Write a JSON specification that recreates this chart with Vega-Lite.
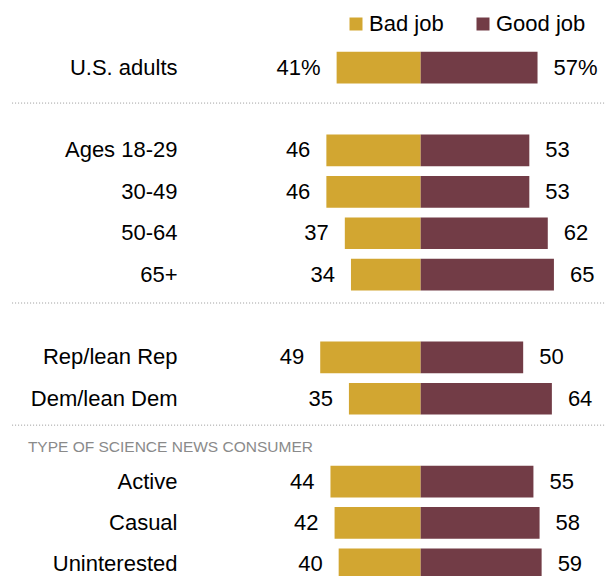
{
  "$schema": "https://vega.github.io/schema/vega-lite/v6.json",
  "width": 606,
  "height": 538,
  "autosize": "none",
  "padding": {"left": 0, "top": 47, "right": 0, "bottom": 0},
  "background": "white",
  "config": {
    "view": {"stroke": null},
    "font": "Liberation Sans",
    "text": {"font": "Liberation Sans"}
  },
  "datasets": {
    "survey": [
      {"row": "U.S. adults", "bad": 41, "good": 57},
      {"row": "Ages 18-29", "bad": 46, "good": 53},
      {"row": "30-49", "bad": 46, "good": 53},
      {"row": "50-64", "bad": 37, "good": 62},
      {"row": "65+", "bad": 34, "good": 65},
      {"row": "Rep/lean Rep", "bad": 49, "good": 50},
      {"row": "Dem/lean Dem", "bad": 35, "good": 64},
      {"row": "Active", "bad": 44, "good": 55},
      {"row": "Casual", "bad": 42, "good": 58},
      {"row": "Uninterested", "bad": 40, "good": 59}
    ]
  },
  "encoding": {
    "y": {
      "field": "row",
      "type": "nominal",
      "sort": null,
      "scale": {
        "domain": ["U.S. adults", "_g1", "Ages 18-29", "30-49", "50-64", "65+", "_g2", "Rep/lean Rep", "Dem/lean Dem", "_hdr", "Active", "Casual", "Uninterested"],
        "paddingInner": 0.234,
        "paddingOuter": 0.117
      },
      "axis": {
        "title": null,
        "orient": "left",
        "offset": -177,
        "domain": false,
        "ticks": false,
        "grid": false,
        "labelPadding": 0,
        "labelFontSize": 22,
        "labelColor": "#000000",
        "labelFont": "Liberation Sans",
        "labelLimit": 400,
        "labelExpr": "indexof(datum.value, '_') === 0 ? '' : datum.value"
      }
    }
  },
  "layer": [
    {
      "data": {"name": "survey"},
      "transform": [
        {"fold": ["bad", "good"], "as": ["key", "value"]},
        {"calculate": "datum.key === 'bad' ? 'Bad job' : 'Good job'", "as": "response"},
        {"calculate": "datum.key === 'bad' ? -datum.value : datum.value", "as": "signed"}
      ],
      "mark": {"type": "bar"},
      "encoding": {
        "x": {
          "field": "signed",
          "type": "quantitative",
          "scale": {"domain": [-205.2, 90.4], "nice": false, "zero": false},
          "axis": null
        },
        "color": {
          "field": "response",
          "type": "nominal",
          "scale": {"domain": ["Bad job", "Good job"], "range": ["#D2A631", "#723C46"]},
          "legend": {
            "title": null,
            "orient": "none",
            "direction": "horizontal",
            "legendX": 345,
            "legendY": -34,
            "symbolType": "square",
            "symbolSize": 169,
            "symbolStrokeWidth": 0,
            "symbolOpacity": 1,
            "labelFontSize": 22,
            "labelColor": "#000000",
            "labelFont": "Liberation Sans",
            "labelOffset": 2,
            "columnPadding": 28
          }
        }
      }
    },
    {
      "data": {"name": "survey"},
      "transform": [
        {"calculate": "-datum.bad", "as": "negBad"},
        {"calculate": "datum.row === 'U.S. adults' ? datum.bad + '%' : '' + datum.bad", "as": "badLabel"}
      ],
      "mark": {"type": "text", "align": "right", "baseline": "middle", "dx": -16, "fontSize": 22, "color": "#000000"},
      "encoding": {
        "x": {"field": "negBad", "type": "quantitative"},
        "text": {"field": "badLabel"}
      }
    },
    {
      "data": {"name": "survey"},
      "transform": [
        {"calculate": "datum.row === 'U.S. adults' ? datum.good + '%' : '' + datum.good", "as": "goodLabel"}
      ],
      "mark": {"type": "text", "align": "left", "baseline": "middle", "dx": 16, "fontSize": 22, "color": "#000000"},
      "encoding": {
        "x": {"field": "good", "type": "quantitative"},
        "text": {"field": "goodLabel"}
      }
    },
    {
      "data": {"values": [{"row": "_hdr", "label": "TYPE OF SCIENCE NEWS CONSUMER"}]},
      "mark": {"type": "text", "align": "left", "baseline": "middle", "dy": 7, "fontSize": 15.5, "font": "Liberation Sans", "color": "#8a8a8a"},
      "encoding": {
        "x": {"datum": -191.6, "type": "quantitative"},
        "text": {"field": "label"}
      }
    },
    {
      "data": {"values": [{"row": "_g1"}]},
      "mark": {"type": "rule", "strokeDash": [1, 2], "strokeWidth": 1, "color": "#9a9a9a", "yOffset": -6},
      "encoding": {
        "x": {"datum": -199.3, "type": "quantitative"},
        "x2": {"datum": 90.4}
      }
    },
    {
      "data": {"values": [{"row": "_g2"}]},
      "mark": {"type": "rule", "strokeDash": [1, 2], "strokeWidth": 1, "color": "#9a9a9a", "yOffset": -13},
      "encoding": {
        "x": {"datum": -199.3, "type": "quantitative"},
        "x2": {"datum": 90.4}
      }
    },
    {
      "data": {"values": [{"row": "_hdr"}]},
      "mark": {"type": "rule", "strokeDash": [1, 2], "strokeWidth": 1, "color": "#9a9a9a", "yOffset": -15},
      "encoding": {
        "x": {"datum": -199.3, "type": "quantitative"},
        "x2": {"datum": 90.4}
      }
    }
  ]
}
